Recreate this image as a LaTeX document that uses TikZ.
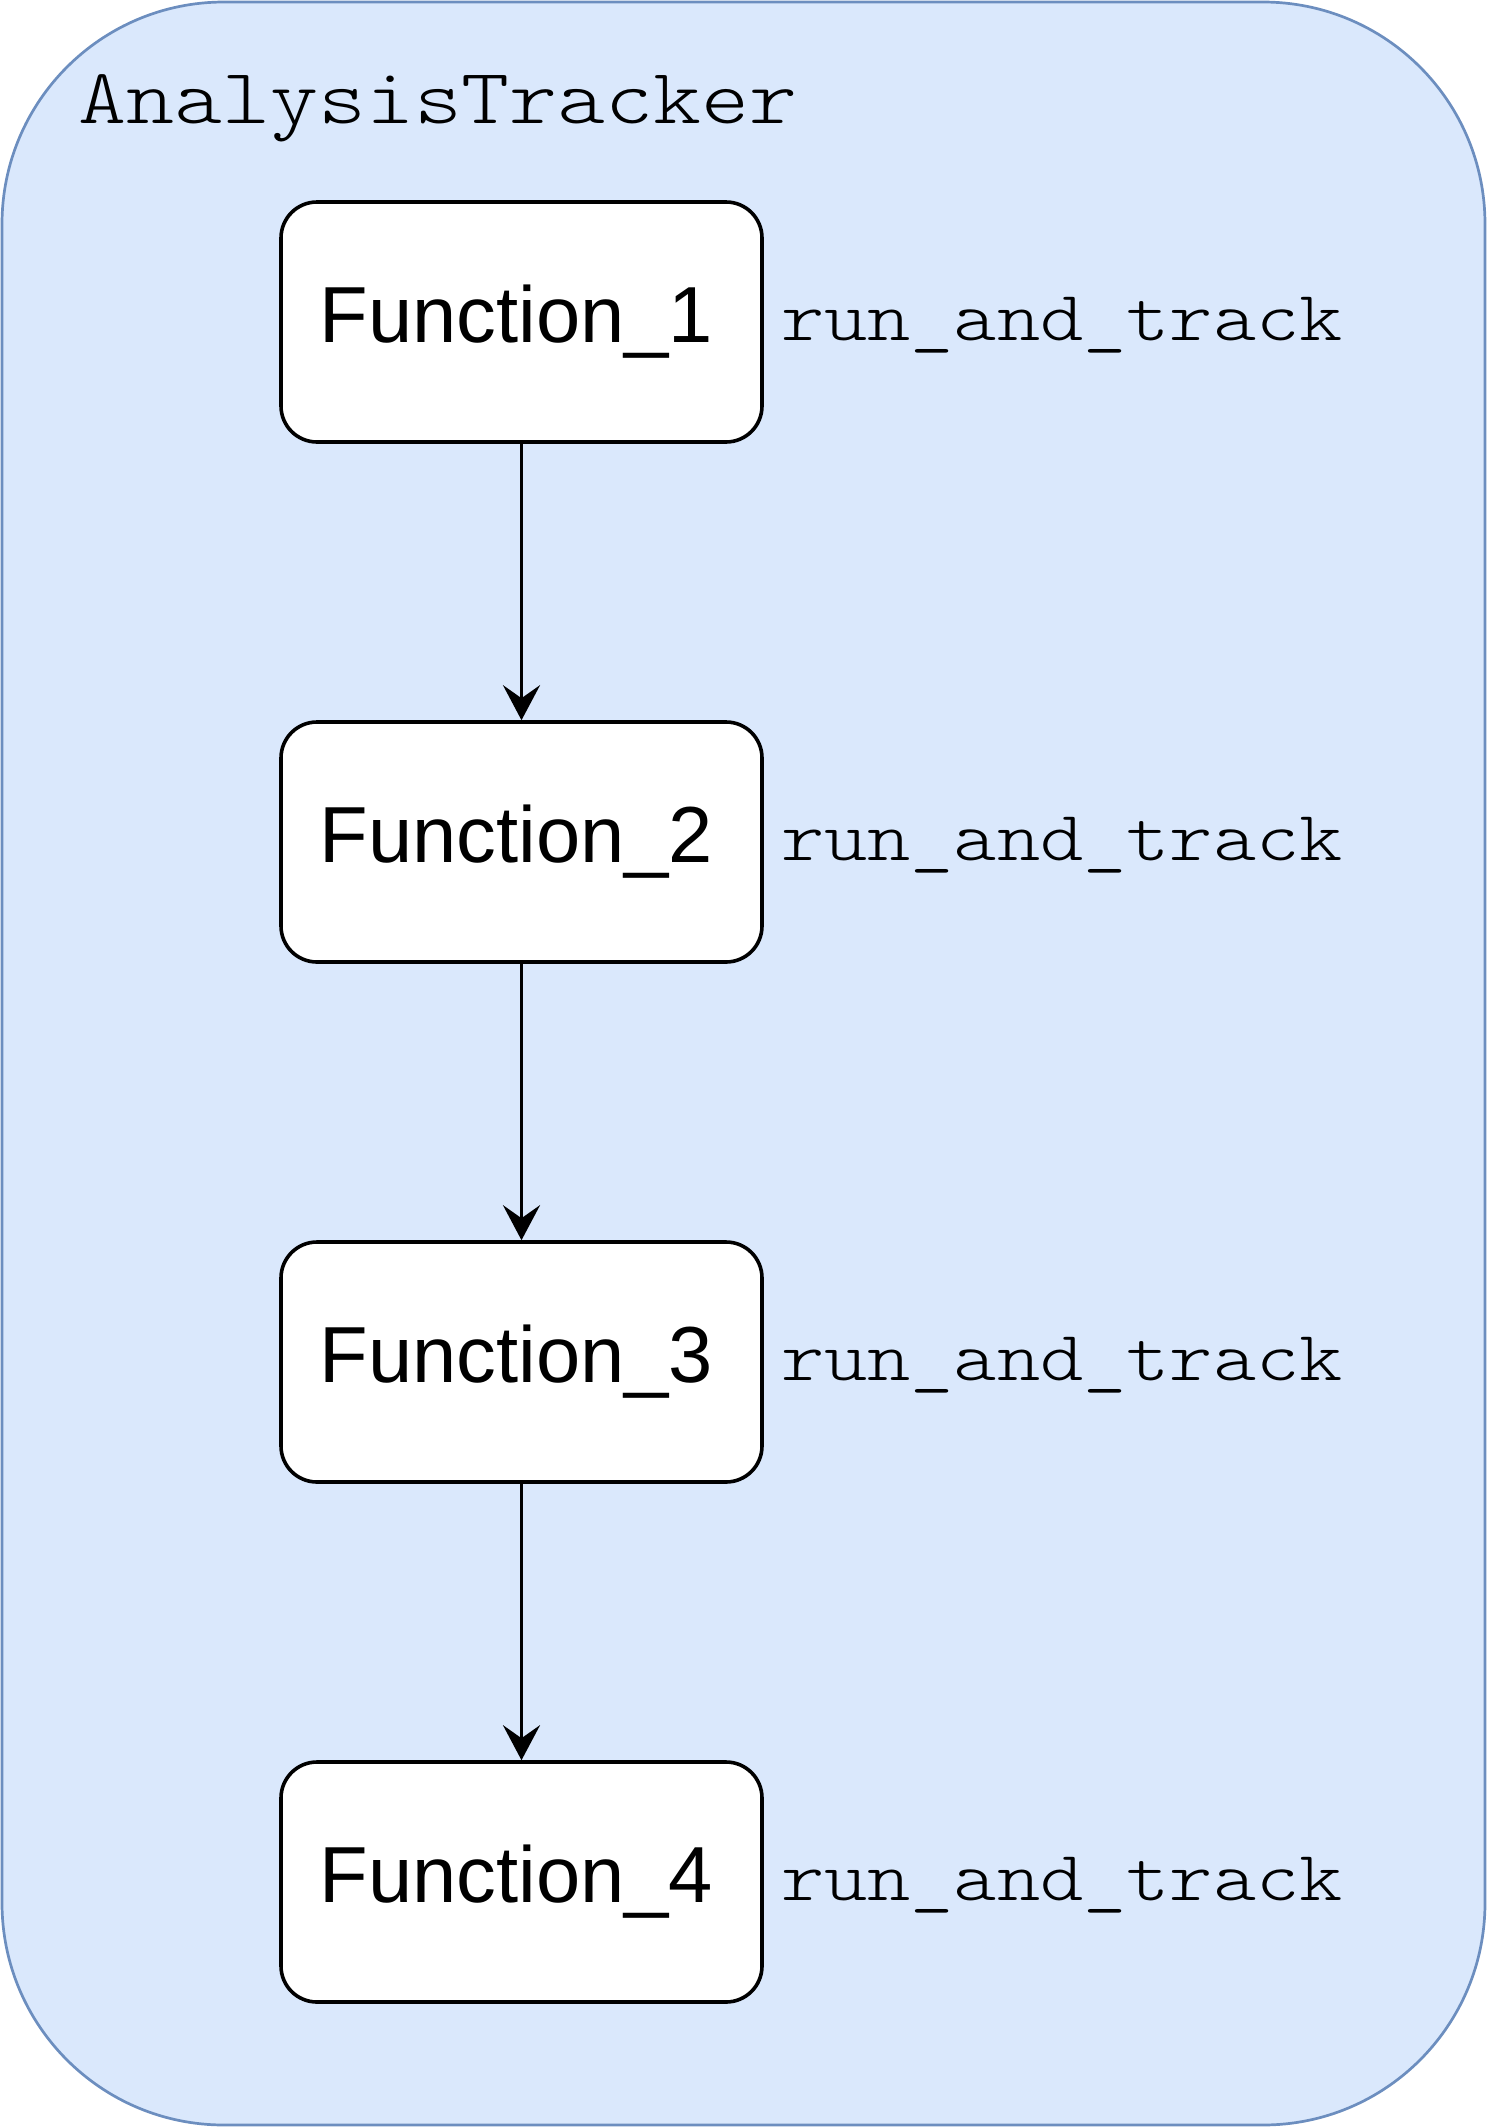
\documentclass[tikz,border=0pt]{standalone}
\usepackage{fontspec}
\setmainfont{Liberation Sans}
\newfontfamily\codefont[FakeStretch=1.164]{Latin Modern Mono Light}
\usetikzlibrary{arrows.meta}
\definecolor{outerfill}{HTML}{DAE8FC}
\definecolor{outerdraw}{HTML}{6C8EBF}
\tikzset{
  funcbox/.style={draw=black, fill=white, line width=3.6pt, rounded corners=36pt,
    minimum width=481pt, minimum height=240pt, inner sep=0pt,
    font=\fontsize{79.5}{90}\selectfont},
  lbl/.style={inner sep=0pt, anchor=base west, font=\codefont\fontsize{70.7}{80}\selectfont},
  conn/.style={draw=black, line width=3.6pt, -{Stealth[length=35pt, width=37pt, inset=13pt]}}
}
\begin{document}
\begin{tikzpicture}[x=1pt, y=-1pt]
\useasboundingbox (0,0) rectangle (1488,2128);
\draw[fill=outerfill, draw=outerdraw, line width=2.7pt, rounded corners=222pt] (2,2) rectangle (1485,2125);
\node[inner sep=0pt, anchor=base west, font=\codefont\fontsize{78.5}{90}\selectfont] (title) at (78,123) {AnalysisTracker};
\node[funcbox] (f1) at (521.5,322) {Function\_1\kern10pt};
\node[funcbox] (f2) at (521.5,842) {Function\_2\kern10pt};
\node[funcbox] (f3) at (521.5,1362) {Function\_3\kern10pt};
\node[funcbox] (f4) at (521.5,1882) {Function\_4\kern10pt};
\node[lbl] (l1) at ([xshift=17pt,yshift=-18pt]f1.east) {run\_and\_track};
\node[lbl] (l2) at ([xshift=17pt,yshift=-18pt]f2.east) {run\_and\_track};
\node[lbl] (l3) at ([xshift=17pt,yshift=-18pt]f3.east) {run\_and\_track};
\node[lbl] (l4) at ([xshift=17pt,yshift=-18pt]f4.east) {run\_and\_track};
\draw[conn] (f1) -- (f2);
\draw[conn] (f2) -- (f3);
\draw[conn] (f3) -- (f4);
\end{tikzpicture}
\end{document}
